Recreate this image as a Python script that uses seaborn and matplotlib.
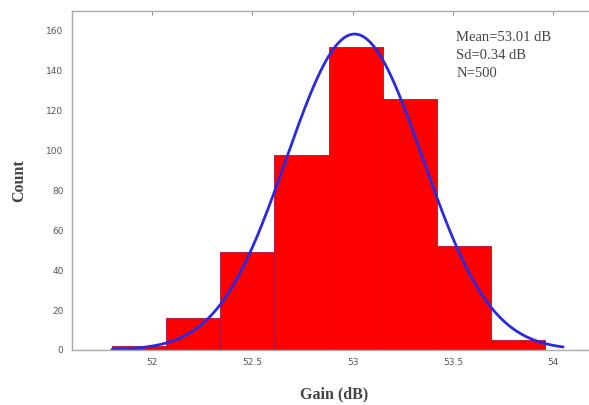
import numpy as np
import pandas as pd
import matplotlib
matplotlib.use("Agg")
import matplotlib.pyplot as plt
import seaborn as sns

# Histogram of measured gain
bin_edges = [51.80, 52.07, 52.34, 52.61, 52.88, 53.15, 53.42, 53.69, 53.96]
counts = [2, 16, 49, 98, 152, 126, 52, 5]

# Fitted normal summary
mean_db = 53.01
sd_db = 0.34
n_samples = 500

xticks = [52, 52.5, 53, 53.5, 54]
xtick_labels = ["52", "52.5", "53", "53.5", "54"]
yticks = [0, 20, 40, 60, 80, 100, 120, 140, 160]

sns.set_theme(style="white")
plt.rcParams["font.family"] = ["DejaVu Sans"]

fig = plt.figure(figsize=(5.89, 4.05), dpi=100)
ax = fig.add_axes([0.122, 0.136, 0.892, 0.837])

centers = [(a + b) / 2 for a, b in zip(bin_edges[:-1], bin_edges[1:])]
df = pd.DataFrame({"gain": centers, "count": counts})
sns.histplot(data=df, x="gain", weights="count", bins=bin_edges, ax=ax,
             color="#ff0000", alpha=1.0, edgecolor="#b0103a", linewidth=0.6)

# Normal fit curve scaled to the histogram
bw = bin_edges[1] - bin_edges[0]
xs = np.linspace(51.80, 54.05, 300)
ys = n_samples * bw / (sd_db * np.sqrt(2 * np.pi)) * np.exp(-0.5 * ((xs - mean_db) / sd_db) ** 2)
sns.lineplot(x=xs, y=ys, ax=ax, color="#2a2ae0", linewidth=2.0)

ax.set_xlim(51.6, 54.22)
ax.set_ylim(0, 170)
ax.set_xticks(xticks)
ax.set_xticklabels(xtick_labels)
ax.set_yticks(yticks)
ax.tick_params(axis="both", direction="in", length=3, width=0.6,
               colors="#777777", labelsize=6.5, labelcolor="#555555",
               top=True, right=False, pad=6)
for s in ax.spines.values():
    s.set_color("#aaaaaa")
    s.set_linewidth(1.0)
ax.spines["right"].set_visible(False)

serif = ["Liberation Serif", "DejaVu Serif"]
ax.set_xlabel("Gain (dB)", family=serif, fontsize=11.5, fontweight="bold",
              color="#444444", labelpad=14)
ax.set_ylabel("Count", family=serif, fontsize=11.5, fontweight="bold",
              color="#444444", labelpad=14)

ax.text(0.732, 0.94,
        f"Mean={mean_db:.2f} dB\nSd={sd_db:.2f} dB\nN={n_samples}",
        transform=ax.transAxes, ha="left", va="top", family=serif,
        fontsize=10.5, color="#444444", linespacing=1.5)

fig.savefig("out.png", dpi=100)
